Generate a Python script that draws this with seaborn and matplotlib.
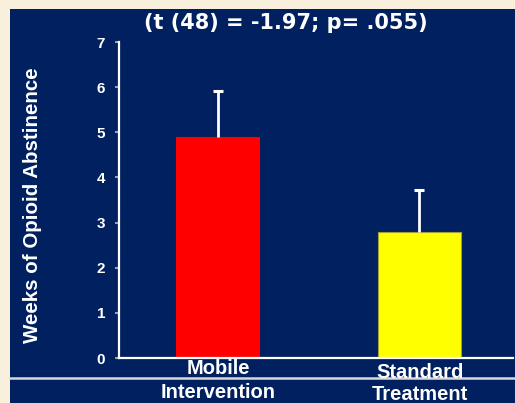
import matplotlib
matplotlib.use("Agg")
import matplotlib.pyplot as plt
import seaborn as sns
import pandas as pd
import numpy as np
from matplotlib.patches import Rectangle
from matplotlib.lines import Line2D

categories = ["Mobile\nIntervention", "Standard\nTreatment"]
means = [4.9, 2.8]
errors = [1.02, 0.92]
colors = ["#ff0000", "#ffff00"]
yticks = [0, 1, 2, 3, 4, 5, 6, 7]
title = "(t (48) = -1.97; p= .055)"
ylabel = "Weeks of Opioid Abstinence"

NAVY = "#002060"
CREAM = "#f8f0dc"

sns.set_theme(style="white")
plt.rcParams['font.family'] = ['Liberation Sans', 'DejaVu Sans']

fig = plt.figure(figsize=(5.15, 4.03), dpi=100)
fig.patch.set_facecolor(CREAM)
fig.patches.append(Rectangle((10/515, 0), 1 - 10/515, 1 - 9/403,
                             transform=fig.transFigure, facecolor=NAVY,
                             edgecolor="none", zorder=-10))
fig.lines.append(Line2D([10/515, 1], [1 - 378/403, 1 - 378/403],
                        transform=fig.transFigure, color="#d8d8d8", lw=1.8,
                        zorder=-5))

ax = fig.add_axes([119/515, 1 - 358/403, (513 - 119)/515, (358 - 42)/403])
ax.set_facecolor("none")
ax.set_zorder(1)

df = pd.DataFrame({"group": categories, "weeks": means})
sns.barplot(data=df, x="group", y="weeks", hue="group", palette=colors,
            width=0.41, ax=ax, legend=False, errorbar=None, saturation=1)
for p, ec in zip(ax.patches, ["#ff0000", "#a0a030"]):
    p.set_edgecolor(ec)
    p.set_linewidth(0.8)

xs = np.arange(len(means))
tops = np.array(means) + np.array(errors)
ax.errorbar(xs, means, yerr=[[0]*len(errors), errors],
            fmt="none", ecolor="white", elinewidth=2, capsize=0, zorder=5)
ax.scatter(xs, tops, marker="_", s=55, color="white", linewidths=2.2,
           zorder=6)

ax.set_xlim(-0.49, 1.465)
ax.set_ylim(0, 7)
ax.set_yticks(yticks)
ax.set_yticklabels([str(t) for t in yticks], color="white",
                   fontweight="bold", fontsize=11)
ax.tick_params(axis="y", left=True, length=3, width=1.5, color="#a0a0a0", pad=7)
ax.set_xticks([])
ax.set_xlabel("")
ax.set_ylabel("")
for s in ["top", "right"]:
    ax.spines[s].set_visible(False)
for s in ["left", "bottom"]:
    ax.spines[s].set_color("white")
    ax.spines[s].set_linewidth(1.6)

# category labels
lab_pos = [(218, 369, 392), (420, 372, 395)]
for (cx, y1, y2), lab in zip(lab_pos, categories):
    a, b = lab.split("\n")
    fig.text(cx/515, 1 - y1/403, a, color="white", fontweight="bold",
             fontsize=14.5, ha="center", va="center")
    fig.text(cx/515, 1 - y2/403, b, color="white", fontweight="bold",
             fontsize=14.5, ha="center", va="center")

fig.text(286/515, 1 - 23/403, title, color="white", fontweight="bold",
         fontsize=15, ha="center", va="center", family="DejaVu Sans")
fig.text(33/515, 1 - 205/403, ylabel, color="white", fontweight="bold",
         fontsize=14.8, ha="center", va="center", rotation=90)

fig.savefig("out.png", dpi=100, facecolor=fig.get_facecolor())
